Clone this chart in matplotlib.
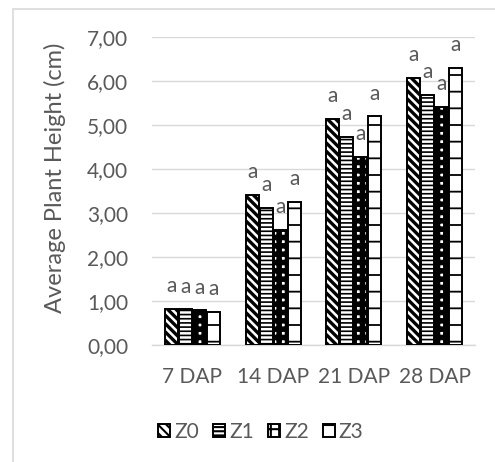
import matplotlib
matplotlib.use('Agg')
import matplotlib.pyplot as plt
import numpy as np
from matplotlib.patches import Rectangle
from matplotlib.ticker import FuncFormatter

categories = ['7 DAP', '14 DAP', '21 DAP', '28 DAP']
series = ['Z0', 'Z1', 'Z2', 'Z3']
z0 = [0.82, 3.41, 5.14, 6.07]
z1 = [0.81, 3.11, 4.73, 5.68]
z2 = [0.79, 2.61, 4.27, 5.41]
z3 = [0.76, 3.25, 5.20, 6.30]
letters = ['a', 'a', 'a', 'a']

plt.rcParams['font.family'] = ['Lato', 'DejaVu Sans']
grey = '#595959'

fig = plt.figure(figsize=[4.95, 4.62], dpi=100)
ax = fig.add_axes([152 / 495, 1 - 345 / 462, 323 / 495, 308 / 462])

# chart area border (only left and top visible)
fig.patches.append(Rectangle((13 / 495, -0.1), 1.2, 1.1 - 9 / 462, transform=fig.transFigure,
                             fill=False, edgecolor='#d9d9d9', linewidth=1.2, zorder=0))

x = np.arange(len(categories))
step = 0.173
width = 0.16
hatches = ['\\\\\\\\', '----', '++', '-']
hlw = [2.4, 1.2, 4.0, 1.3]
data = [z0, z1, z2, z3]

for k in range(4):
    pos = x + (k - 1.5) * step
    with plt.rc_context({'hatch.linewidth': hlw[k]}):
        bars = ax.bar(pos, data[k], width, facecolor='white', edgecolor='black',
                      linewidth=1.4, hatch=hatches[k], label=series[k], zorder=3)
    for p, v in zip(pos, data[k]):
        ax.annotate(letters[k], (p, v), xytext=(0, 12), textcoords='offset points',
                    ha='center', va='baseline', fontsize=15, color=grey)

ax.set_xlim(-0.5, 3.5)
ax.set_ylim(0, 7)
ax.set_yticks(np.arange(0, 8, 1))
ax.yaxis.set_major_formatter(FuncFormatter(lambda v, p: ('%.2f' % v).replace('.', ',')))
ax.set_xticks(x)
ax.set_xticklabels(categories)
ax.grid(axis='y', color='#d9d9d9', linewidth=1.0, zorder=0)
ax.set_axisbelow(True)
for s in ['top', 'right', 'left']:
    ax.spines[s].set_visible(False)
ax.spines['bottom'].set_color('#d9d9d9')
ax.spines['bottom'].set_linewidth(1.0)
ax.tick_params(axis='y', length=0, pad=17, labelsize=15, labelcolor=grey)
ax.tick_params(axis='x', length=0, pad=16, labelsize=15, labelcolor=grey)

fig.text(55 / 495, 1 - 178 / 462, 'Average Plant Height (cm)', rotation=90,
         ha='center', va='center', fontsize=17, color=grey)

with plt.rc_context({'hatch.linewidth': 1.5}):
    leg = fig.legend(loc='center', bbox_to_anchor=(261 / 495, 1 - 432 / 462), ncol=4,
                     frameon=False, fontsize=15, handlelength=0.55, handleheight=0.55,
                     handletextpad=0.2, columnspacing=0.7, labelcolor=grey)

plt.savefig('out.png', dpi=100)
